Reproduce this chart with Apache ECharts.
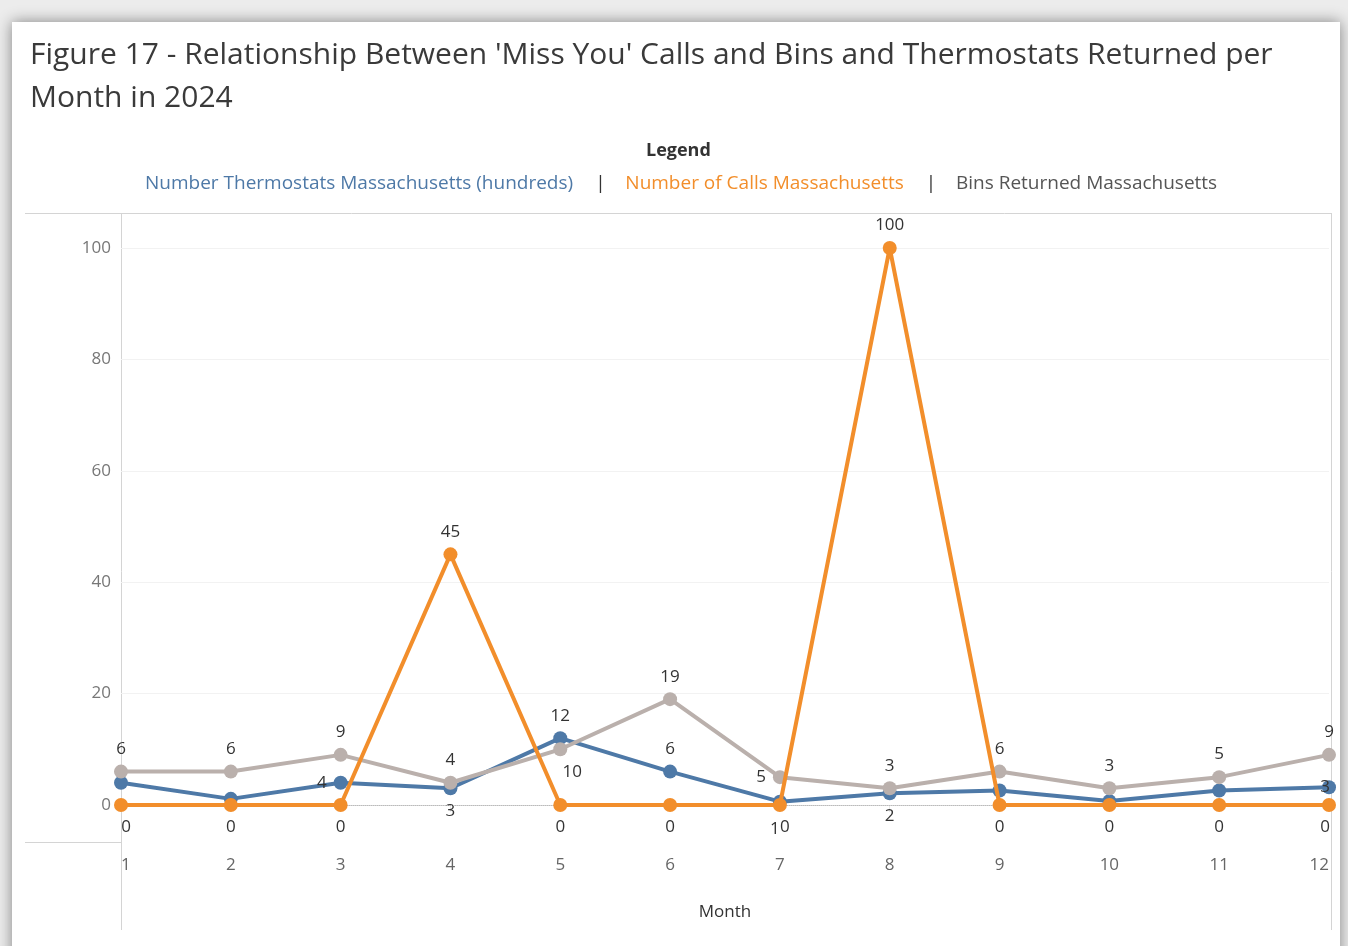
<!DOCTYPE html>
<html>
<head>
<meta charset="utf-8">
<script src="https://cdn.jsdelivr.net/npm/echarts@6/dist/echarts.min.js"></script>
<style>
html,body{margin:0;padding:0;background:#ececec;}
#chart{width:1348px;height:946px;}
</style>
</head>
<body>
<div id="chart"></div>
<script>
const months = ['1','2','3','4','5','6','7','8','9','10','11','12'];
const thermostats = [4, 1.1, 4, 3, 12, 6, 0.6, 2.1, 2.6, 0.7, 2.6, 3.2];
const calls = [0, 0, 0, 45, 0, 0, 0, 100, 0, 0, 0, 0];
const bins = [6, 6, 9, 4, 10, 19, 5, 3, 6, 3, 5, 9];
const yTicks = [0, 20, 40, 60, 80, 100];

const seriesNames = ['Number Thermostats Massachusetts (hundreds)', 'Number of Calls Massachusetts', 'Bins Returned Massachusetts'];
const colors = ['#4e79a7', '#f28e2b', '#bab0ac'];
const legendColors = ['#4e79a7', '#f28e2b', '#555555'];

// label placement per point (null = hidden)
const thermoLabelPos = [null, null, 'left', 'bottom', 'top', 'top', 'bottom', 'bottom', null, null, null, 'inside'];
const callsLabelPos = ['bottom','bottom','bottom','top','bottom','bottom','bottom','top','bottom','bottom','bottom','bottom'];
const binsLabelPos = ['top','top','top','top','bottom','top','left','top','top','top','top','top'];

const labelFont = {fontFamily: 'Open Sans', fontSize: 17, color: '#333'};

function buildData(values, positions, extra) {
  return values.map((v, i) => {
    const p = positions[i];
    const lab = p ? Object.assign({show: true, position: p, distance: 7}, labelFont) : {show: false};
    if (extra && extra[i]) Object.assign(lab, extra[i]);
    return {value: v, label: lab};
  });
}

const chart = echarts.init(document.getElementById('chart'));
const fmt = p => String(Math.round(p.value));

const option = {
  backgroundColor: '#ececec',
  animation: false,
  title: {
    text: "Figure 17 - Relationship Between 'Miss You' Calls and Bins and Thermostats Returned per\nMonth in 2024",
    left: 25, top: 29,
    textStyle: {fontFamily: 'Open Sans', fontWeight: 'normal', fontSize: 30, color: '#3a3a3a', lineHeight: 43}
  },
  legend: {
    top: 169, left: 135,
    icon: 'none', itemWidth: 0, itemGap: 17,
    selectedMode: false,
    data: seriesNames.map((n, i) => ({name: n, textStyle: {color: legendColors[i]}})),
    formatter: name => seriesNames.indexOf(name) > 0 ? '{sep||}    ' + name : name,
    textStyle: {fontFamily: 'Open Sans', fontSize: 19, rich: {sep: {color: '#333', fontSize: 19, fontFamily: 'Open Sans'}}}
  },
  grid: {left: 121, right: 19, top: 248, bottom: 141, containLabel: false},
  xAxis: {
    type: 'category', data: months, boundaryGap: false, offset: 37,
    axisLine: {show: true, lineStyle: {color: '#d4d4d4', width: 1}},
    axisTick: {show: true, length: 7, lineStyle: {color: '#eaeaea'}},
    axisLabel: {color: '#666', fontFamily: 'Open Sans', fontSize: 17, margin: 15, alignMinLabel: 'left', alignMaxLabel: 'right'},
    name: 'Month', nameLocation: 'middle', nameGap: 62,
    nameTextStyle: {color: '#333', fontFamily: 'Open Sans', fontSize: 17}
  },
  yAxis: {
    type: 'value', min: 0, max: 100, interval: 20,
    axisLine: {show: false}, axisTick: {show: false},
    axisLabel: {color: '#777', fontFamily: 'Open Sans', fontSize: 17, margin: 10},
    splitLine: {show: true, lineStyle: {color: '#f2f2f2'}}
  },
  graphic: [
    {type: 'rect', shape: {x: 12, y: 22, width: 1328, height: 940}, style: {fill: '#fff', shadowBlur: 14, shadowColor: 'rgba(0,0,0,0.45)'}, z: -10, silent: true},
    {type: 'line', shape: {x1: 25, y1: 213.5, x2: 1331, y2: 213.5}, style: {stroke: '#d4d4d4', lineWidth: 1}, silent: true},
    {type: 'line', shape: {x1: 121.5, y1: 213, x2: 121.5, y2: 930}, style: {stroke: '#d4d4d4', lineWidth: 1}, silent: true},
    {type: 'line', shape: {x1: 1331.5, y1: 213, x2: 1331.5, y2: 930}, style: {stroke: '#d4d4d4', lineWidth: 1}, silent: true},
    {type: 'line', shape: {x1: 25, y1: 842.5, x2: 121, y2: 842.5}, style: {stroke: '#d4d4d4', lineWidth: 1}, silent: true},
    {type: 'text', left: 646, top: 142, style: {text: 'Legend', fontFamily: 'Open Sans', fontWeight: 'bold', fontSize: 18, fill: '#333'}}
  ],
  series: [
    {
      name: seriesNames[0], type: 'line', data: buildData(thermostats, thermoLabelPos, {6: {offset: [-5, 5]}, 11: {offset: [-4, 0]}}),
      color: colors[0], symbol: 'circle', symbolSize: 14, lineStyle: {width: 4},
      label: {formatter: fmt}, clip: false, z: 3,
      markLine: {silent: true, symbol: 'none', label: {show: false}, data: [{yAxis: 0}], lineStyle: {color: '#bbb', type: 'dotted', width: 1}}
    },
    {
      name: seriesNames[2], type: 'line', data: buildData(bins, binsLabelPos, {4: {offset: [12, 0]}}),
      color: colors[2], symbol: 'circle', symbolSize: 14, lineStyle: {width: 4},
      label: {formatter: fmt}, clip: false, z: 4
    },
    {
      name: seriesNames[1], type: 'line', data: buildData(calls, callsLabelPos, {0: {offset: [5, 0]}, 6: {offset: [5, 0]}, 11: {offset: [-4, 0]}}),
      color: colors[1], symbol: 'circle', symbolSize: 14, lineStyle: {width: 4},
      label: {formatter: fmt}, clip: false, z: 5
    }
  ]
};
chart.setOption(option);
</script>
</body>
</html>
